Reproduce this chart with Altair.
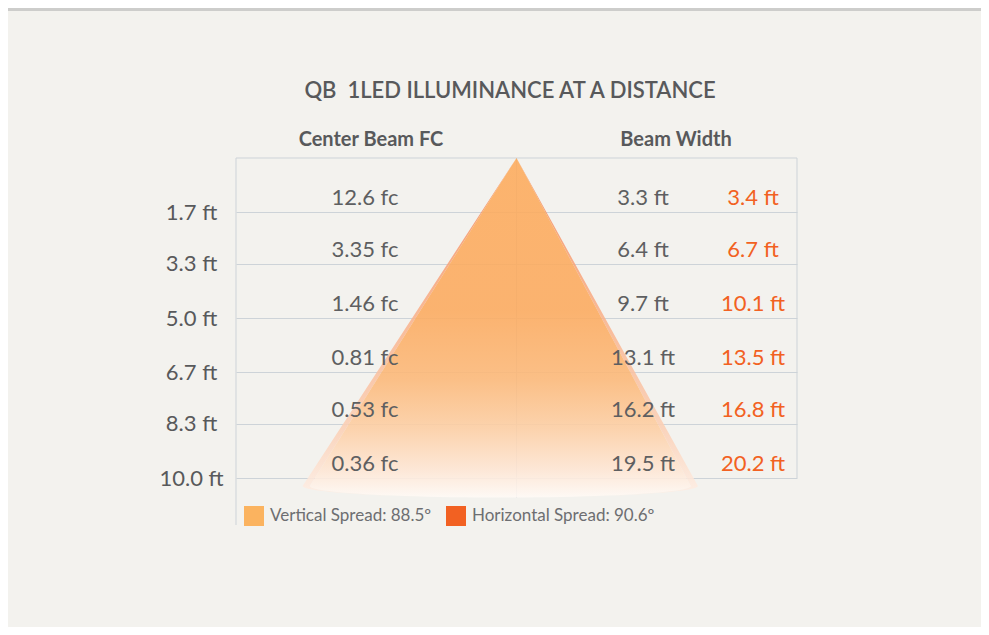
import altair as alt
import numpy as np
import pandas as pd

# ---------------- data ----------------
title_text = "QB\u00a0 1LED ILLUMINANCE AT A DISTANCE"
header_fc = "Center Beam FC"
header_width = "Beam Width"
distances_ft = [1.7, 3.3, 5.0, 6.7, 8.3, 10.0]
center_beam_fc = [12.6, 3.35, 1.46, 0.81, 0.53, 0.36]
vertical_width_ft = [3.3, 6.4, 9.7, 13.1, 16.2, 19.5]
horizontal_width_ft = [3.4, 6.7, 10.1, 13.5, 16.8, 20.2]
vertical_spread_deg = 88.5
horizontal_spread_deg = 90.6
legend_labels = ["Vertical Spread: 88.5º", "Horizontal Spread: 90.6º"]

# illustration geometry (in feet)
cone_depth_ft = 10.25
cap_depth_ft = 0.36
cone_tilt_ft = -0.85      # drawing is slightly skewed to the left
x_half_ft = 14.7
left_line_end_ft = 11.47

# ---------------- styles ----------------
FONT = "Lato"
GRAY = "#58595b"
VAL_GRAY = "#5e5f61"
ORANGE = "#f26122"
LIGHT_ORANGE = "#fbb35f"
GRID = "#cdd3d8"
BG = "#f3f2ee"

W, H = 561, 320
PAD = {"left": 228, "top": 150, "right": 184, "bottom": 149}

yscale = alt.Scale(domain=[0, 10], reverse=True, nice=False, zero=False)
xscale = alt.Scale(domain=[-x_half_ft, x_half_ft], nice=False, zero=False)
y_axis = alt.Axis(
    values=distances_ft, format=".1f", labelExpr="datum.label + ' ft'",
    grid=True, gridColor=GRID, gridWidth=1, domain=False, ticks=False,
    labelFont=FONT, labelFontSize=22, labelColor=GRAY, labelAlign="center",
    labelBaseline="middle", labelPadding=45, title=None, labelOverlap=False,
    labelBound=False,
)
Y = lambda f="d": alt.Y(f"{f}:Q", scale=yscale, axis=y_axis)
X = lambda f: alt.X(f"{f}:Q", scale=xscale, axis=None)

# ---------------- cone geometry ----------------
def cone_profile(spread_deg):
    """(distance, centre shift, half width) along the beam drawing."""
    t = np.tan(np.radians(spread_deg / 2.0))
    wmax = cone_depth_ft * t
    pts = [(0.0, 0.0, 0.0), (cone_depth_ft, cone_tilt_ft, wmax)]
    for th in np.linspace(0, np.pi / 2, 25)[1:]:
        pts.append((cone_depth_ft + cap_depth_ft * float(np.sin(th)),
                    cone_tilt_ft, wmax * float(np.cos(th))))
    return pts

pv = cone_profile(vertical_spread_deg)
ph = cone_profile(horizontal_spread_deg)
main_df = pd.DataFrame({"d": [p[0] for p in pv],
                        "xa": [p[1] - p[2] for p in pv],
                        "xb": [p[1] + p[2] for p in pv]})
sl_rows = []
for (d, c, wv), (_, _, wh) in zip(pv, ph):
    sl_rows.append({"d": d, "xa": c - wh, "xb": c - wv, "side": "L"})
    sl_rows.append({"d": d, "xa": c + wv, "xb": c + wh, "side": "R"})
sliver_df = pd.DataFrame(sl_rows)

main_grad = alt.LinearGradient(
    gradient="linear", x1=0, x2=0, y1=0, y2=1,
    stops=[
        alt.GradientStop(color="#fdab5c", offset=0.0),
        alt.GradientStop(color="#fcaa5e", offset=0.45),
        alt.GradientStop(color="#fcb878", offset=0.65),
        alt.GradientStop(color="#fdcfa5", offset=0.8),
        alt.GradientStop(color="#fee6d4", offset=0.92),
        alt.GradientStop(color="#fffaf6", offset=1.0),
    ],
)
sliver_grad = alt.LinearGradient(
    gradient="linear", x1=0, x2=0, y1=0, y2=1,
    stops=[
        alt.GradientStop(color="#f68655", offset=0.0),
        alt.GradientStop(color="#f9b590", offset=0.5),
        alt.GradientStop(color="#fbd0b6", offset=0.8),
        alt.GradientStop(color="#fef0e7", offset=1.0),
    ],
)

# ---------------- layers ----------------
vlines_df = pd.DataFrame({
    "x": [-x_half_ft, 0.0, x_half_ft],
    "d": [0.0, 0.0, 0.0],
    "d2": [left_line_end_ft, cone_depth_ft + cap_depth_ft, 10.0],
})
vlines = alt.Chart(vlines_df).mark_rule(color=GRID, strokeWidth=1).encode(
    x=X("x"), y=Y("d"), y2="d2:Q")

top_df = pd.DataFrame({"d": [0.0]})
top_line = alt.Chart(top_df).mark_rule(color=GRID, strokeWidth=1).encode(y=Y("d"))

top_bar = alt.Chart(top_df).mark_rule(color="#cdcdcb", strokeWidth=3).encode(
    x=alt.value(-PAD["left"]), x2=alt.value(W + PAD["right"]), y=alt.value(-148.5))

slivers = alt.Chart(sliver_df).mark_area(
    orient="horizontal", color=sliver_grad, opacity=0.88
).encode(y=Y("d"), x=X("xa"), x2="xb", detail="side:N")

main = alt.Chart(main_df).mark_area(
    orient="horizontal", color=main_grad, opacity=0.88
).encode(y=Y("d"), x=X("xa"), x2="xb")

vals_df = pd.DataFrame({
    "d": distances_ft,
    "fc": [f"{v} fc" for v in center_beam_fc],
    "vw": [f"{v} ft" for v in vertical_width_ft],
    "hw": [f"{v} ft" for v in horizontal_width_ft],
})
txt = dict(font=FONT, fontSize=22, align="center", baseline="middle", dy=-14)
fc_text = alt.Chart(vals_df).mark_text(color=VAL_GRAY, **txt).encode(
    y=Y("d"), x=alt.value(129), text="fc:N")
vw_text = alt.Chart(vals_df).mark_text(color=VAL_GRAY, **txt).encode(
    y=Y("d"), x=alt.value(407), text="vw:N")
hw_text = alt.Chart(vals_df).mark_text(color=ORANGE, **txt).encode(
    y=Y("d"), x=alt.value(517), text="hw:N")

hdr = dict(font=FONT, fontSize=20, fontWeight="bold", color=GRAY,
           align="center", baseline="middle")
h1 = alt.Chart(pd.DataFrame({"t": [header_fc]})).mark_text(**hdr).encode(
    x=alt.value(135), y=alt.value(-18), text="t:N")
h2 = alt.Chart(pd.DataFrame({"t": [header_width]})).mark_text(**hdr).encode(
    x=alt.value(440), y=alt.value(-18), text="t:N")
title = alt.Chart(pd.DataFrame({"t": [title_text]})).mark_text(
    font=FONT, fontSize=22, fontWeight=600, color=GRAY,
    align="center", baseline="middle").encode(
    x=alt.value(274), y=alt.value(-67), text="t:N")

leg_df = pd.DataFrame({"k": legend_labels, "d": [0.0, 0.0], "x": [0.0, 0.0]})
legend_layer = alt.Chart(leg_df).mark_square(opacity=0).encode(
    x=X("x"), y=Y("d"),
    color=alt.Color("k:N", scale=alt.Scale(domain=legend_labels,
                                             range=[LIGHT_ORANGE, ORANGE]),
                    legend=alt.Legend(
                        orient="none", legendX=8, legendY=348,
                        direction="horizontal", title=None,
                        symbolType="square", symbolSize=400,
                        symbolStrokeWidth=0, symbolOpacity=1,
                        labelFont=FONT, labelFontSize=17,
                        labelColor="#6d6e71", labelOffset=6,
                        columnPadding=14, padding=0, labelLimit=0)),
)

chart = alt.layer(
    top_bar, top_line, vlines, slivers, main, fc_text, vw_text, hw_text,
    h1, h2, title, legend_layer,
).properties(
    width=W, height=H,
    autosize=alt.AutoSizeParams(type="none"),
    padding=PAD,
    background=BG,
).configure_view(stroke=None)

chart.save("out.html", embed_options={"renderer": "svg", "actions": False})
